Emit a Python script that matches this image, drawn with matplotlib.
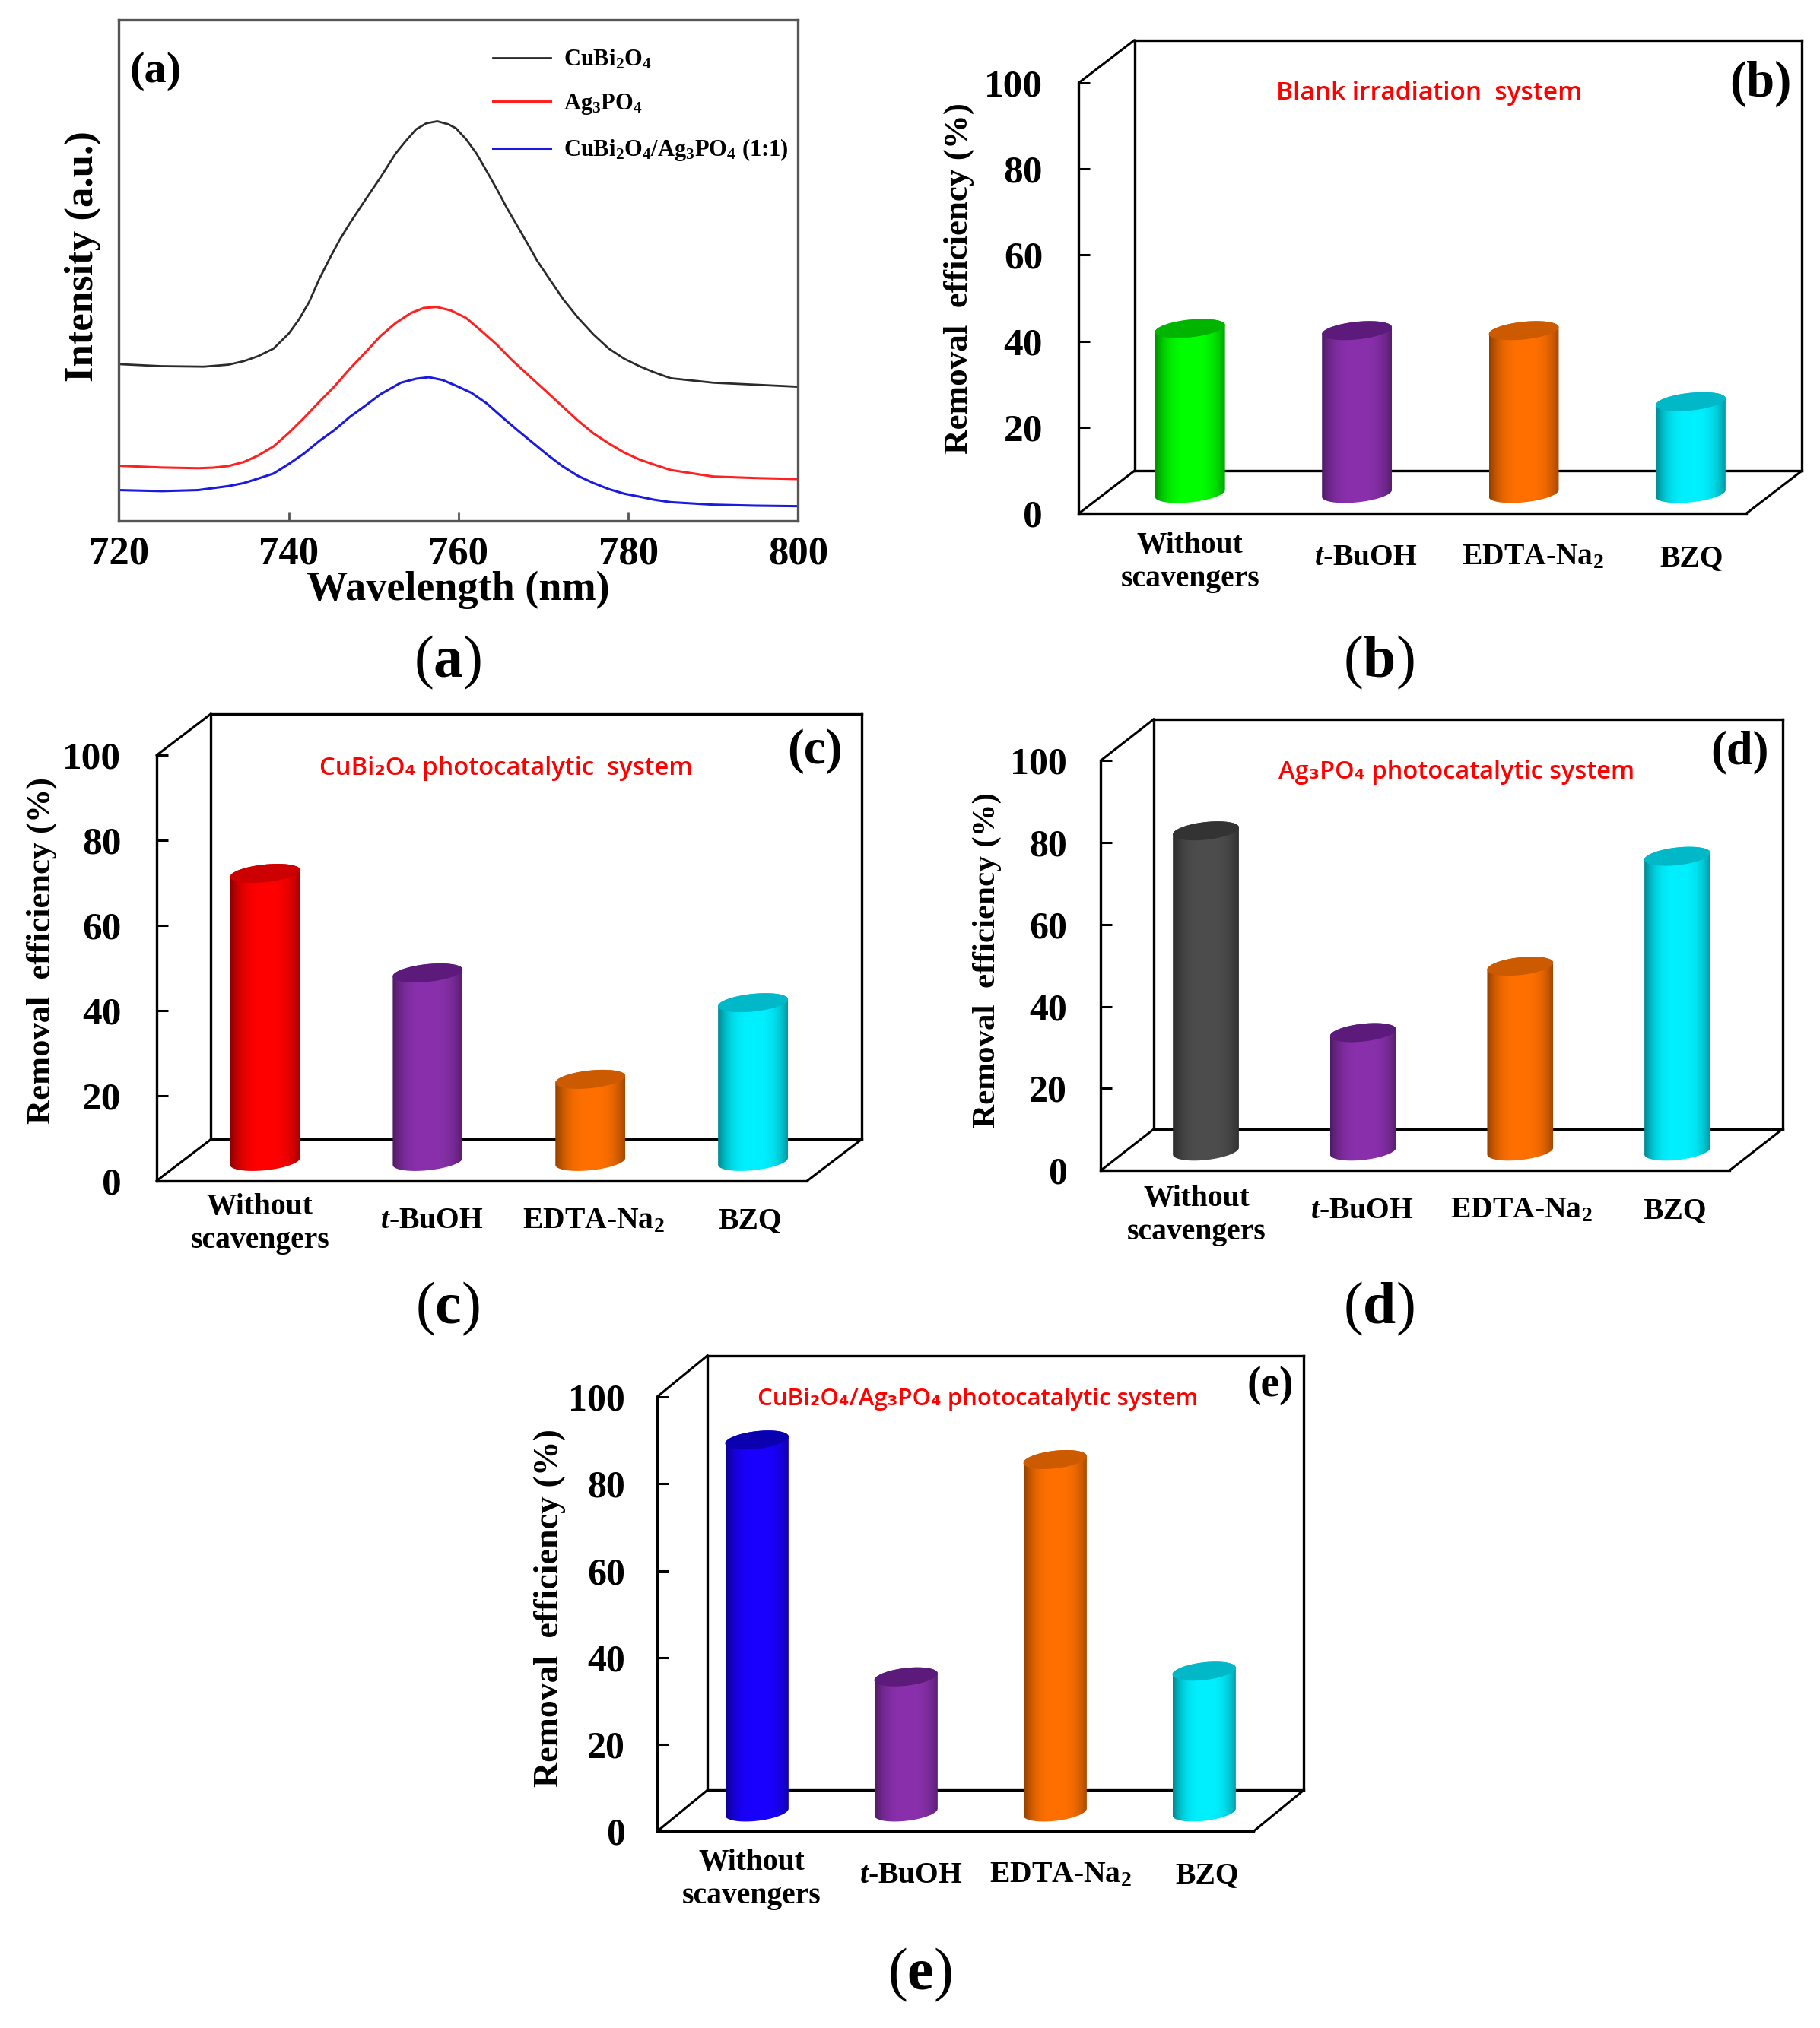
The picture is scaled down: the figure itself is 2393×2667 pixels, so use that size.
import numpy as np
import matplotlib
matplotlib.use('Agg')
import matplotlib.pyplot as plt
from matplotlib.path import Path

plt.rcParams['font.family'] = ['Liberation Serif', 'DejaVu Serif']
plt.rcParams['font.weight'] = 'bold'
plt.rcParams['mathtext.fontset'] = 'custom'
plt.rcParams['mathtext.rm'] = 'Liberation Serif:bold'
plt.rcParams['mathtext.bf'] = 'Liberation Serif:bold'
plt.rcParams['mathtext.it'] = 'Liberation Serif:italic:bold'

# panel (a)
wl_black = [720, 725, 730, 732.9, 734.7, 736.4, 738.2, 740.0, 741.2, 742.4, 743.6, 744.8, 746.0, 747.2, 749.0, 750.8, 752.6, 753.8, 755.0, 756.2, 757.5, 758.8, 759.7, 760.9, 762.1, 763.3, 764.5, 765.7, 766.9, 768.1, 769.3, 770.5, 772.3, 774.1, 775.9, 777.7, 779.5, 781.3, 783.0, 785, 790, 795, 800]
i_black = [31.3, 30.9, 30.8, 31.2, 31.9, 32.9, 34.4, 37.4, 40.2, 43.7, 48.3, 52.3, 56.1, 59.4, 64.0, 68.5, 73.3, 75.8, 78.1, 79.3, 79.7, 79.1, 78.3, 76.1, 73.3, 69.8, 66.2, 62.4, 58.9, 55.4, 51.8, 48.8, 44.3, 40.5, 37.2, 34.4, 32.4, 30.9, 29.7, 28.5, 27.6, 27.2, 26.8]
wl_red = [720, 725, 729.3, 731.1, 732.9, 734.7, 736.4, 738.2, 740.0, 741.8, 743.6, 745.4, 747.2, 749.0, 750.8, 752.6, 754.4, 755.9, 757.4, 759.1, 760.9, 762.7, 764.5, 766.3, 768.1, 770.5, 772.3, 774.1, 775.9, 777.7, 779.5, 781.3, 783.0, 785, 790, 795, 800]
i_red = [11.05, 10.7, 10.56, 10.67, 11.0, 11.8, 13.1, 14.9, 17.6, 20.6, 23.8, 26.9, 30.4, 33.6, 36.9, 39.5, 41.5, 42.5, 42.7, 42.0, 40.5, 37.9, 35.2, 32.1, 29.3, 25.6, 22.8, 20.0, 17.5, 15.5, 13.7, 12.3, 11.3, 10.2, 8.9, 8.6, 8.4]
wl_blue = [720, 725, 729.3, 731.1, 732.9, 734.7, 736.4, 738.2, 740.0, 741.8, 743.6, 745.4, 747.2, 749.0, 750.8, 753.2, 755.0, 756.5, 758.1, 759.7, 761.5, 763.3, 765.1, 766.9, 768.7, 770.5, 772.3, 774.1, 775.9, 777.7, 779.5, 781.3, 783.0, 785, 790, 795, 800]
i_blue = [6.2, 6.0, 6.2, 6.6, 7.0, 7.6, 8.5, 9.5, 11.4, 13.5, 16.0, 18.2, 20.8, 23.0, 25.3, 27.6, 28.4, 28.7, 28.15, 27.0, 25.6, 23.5, 20.8, 18.2, 15.7, 13.2, 10.9, 9.0, 7.6, 6.4, 5.5, 4.9, 4.3, 3.8, 3.3, 3.1, 3.0]

# bar panels
scavengers = ['Without\nscavengers', r'$\mathit{t}$-BuOH', r'EDTA-Na$_{\mathbf{2}}$', 'BZQ']
y_ticks = [0, 20, 40, 60, 80, 100]
vals_b = [38.3, 37.8, 37.8, 21.3]
vals_c = [67.7, 44.3, 19.3, 37.3]
vals_d = [78.1, 28.9, 45.1, 71.9]
vals_e = [85.6, 31.1, 81.1, 32.4]

GREEN = ('#00ff00', '#00b400')
PURPLE = ('#8a30ad', '#5c1a7a')
ORANGE = ('#ff7000', '#cc5a00')
CYAN = ('#00f0ff', '#00b8c8')
RED = ('#ff0000', '#cc0000')
GRAY = ('#4d4d4d', '#333333')
BLUE = ('#1a00ff', '#0a00b0')

# layout is worked out in the coordinates of the shrunk picture
W, H = 1407.0, 1568.0
fig = plt.figure(figsize=(23.93, 26.67), dpi=100)

def rect(x0, y0, x1, y1):
    return [x0 / W, 1 - y1 / H, (x1 - x0) / W, (y1 - y0) / H]

over = fig.add_axes([0, 0, 1, 1], zorder=10)
over.set_xlim(0, W)
over.set_ylim(H, 0)
over.axis('off')

def label(x, y, s, size, **kw):
    over.text(x, y, s, fontsize=size, ha=kw.pop('ha', 'center'), va=kw.pop('va', 'center'), **kw)

def red_title(x, y, s, size):
    label(x, y, s, size, color='#ff0000', family=['Open Sans', 'DejaVu Sans'], weight='semibold')

def cylinder(ax, c, v, hw, colors, px):
    base = matplotlib.colors.to_rgb(colors[0])
    tilt = 2.65 / px
    minor = 6.85 / px
    t = np.linspace(0, 2 * np.pi, 121)
    u = np.linspace(-1, 1, 120)
    shade = 1 - 0.4 * np.abs(u - 0.03) ** 3
    img = np.outer(shade, base).reshape(1, 120, 3)
    im = ax.imshow(img, extent=(c - hw, c + hw, -5, v + 5), aspect='auto', zorder=3)
    lo = np.linspace(np.pi, 2 * np.pi, 60)
    up = np.linspace(0, np.pi, 60)
    xs = np.r_[c + hw * np.cos(lo), c + hw * np.cos(up)]
    ys = np.r_[tilt * np.cos(lo) + minor * np.sin(lo), v + tilt * np.cos(up) + minor * np.sin(up)]
    im.set_clip_path(Path(np.c_[xs, ys], closed=False), transform=ax.transData)
    ax.fill(c + hw * np.cos(t), v + tilt * np.cos(t) + minor * np.sin(t), color=colors[1], lw=0, zorder=4)

def bar_panel(fl, ft, fr, fb, dx, dy, values, colors, bar_w, tick_x, size, pad):
    # fl, ft, fr, fb is the front plane, dx and dy the shift to the back wall
    back = fig.add_axes(rect(fl + dx, ft - dy, fr + dx, fb - dy), zorder=1)
    back.set_xticks([])
    back.set_yticks([])
    for s in back.spines.values():
        s.set_linewidth(2.4)

    front = fig.add_axes(rect(fl, ft, fr, fb), zorder=2, facecolor='none')
    front.set_ylim(0, 100)
    front.set_xticks([])
    front.set_yticks(y_ticks)
    front.tick_params(axis='y', direction='in', length=11, width=2.2, labelsize=size, pad=pad)
    front.spines['top'].set_visible(False)
    front.spines['right'].set_visible(False)
    front.spines['left'].set_linewidth(2.4)
    front.spines['bottom'].set_linewidth(2.4)

    for x, yy in [(fl, ft), (fl, fb), (fr, fb)]:
        over.plot([x, x + dx], [yy, yy - dy], color='k', lw=2.2, solid_capstyle='round')

    # the bars stand half way into the box
    px = (fb - ft) / 100.0
    mx, my = dx / 2.0, dy / 2.0 - 1
    ax = fig.add_axes(rect(fl + mx, ft - my, fr + mx, fb - my + 5 * px), zorder=3, facecolor='none')
    ax.axis('off')
    for i, v in enumerate(values):
        cylinder(ax, i, v, bar_w / 2.0 / ((fr - fl) / 4.0), colors[i], px)
    ax.set_xlim(-0.5, 3.5)
    ax.set_ylim(-5, 100)
    for x, yy, s in zip(tick_x[0], tick_x[1], scavengers):
        label(x, yy, s, 28.5, linespacing=1.25)

# (a)
ax_a = fig.add_axes(rect(92, 15, 617, 403), zorder=1)
ax_a.plot(wl_black, i_black, color='#2b2b2b', lw=2, label=r'CuBi$_{\mathbf{2}}$O$_{\mathbf{4}}$')
ax_a.plot(wl_red, i_red, color='#ff2020', lw=2.2, label=r'Ag$_{\mathbf{3}}$PO$_{\mathbf{4}}$')
ax_a.plot(wl_blue, i_blue, color='#1a1ae0', lw=2.2, label=r'CuBi$_{\mathbf{2}}$O$_{\mathbf{4}}$/Ag$_{\mathbf{3}}$PO$_{\mathbf{4}}$ (1:1)')
ax_a.set_xlim(720, 800)
ax_a.set_ylim(0, 100)
ax_a.set_yticks([])
ax_a.set_xticks([720, 740, 760, 780, 800])
ax_a.tick_params(axis='x', direction='in', length=9, width=2, labelsize=38, pad=14, color='#555555')
for s in ax_a.spines.values():
    s.set_linewidth(2.4)
    s.set_color('#555555')
ax_a.legend(loc='upper left', bbox_to_anchor=((381 - 92) / 525.0, 1 - 22 / 388.0), frameon=False, fontsize=22,
            handlelength=2.5, handletextpad=0.55, labelspacing=0.9, borderpad=0, borderaxespad=0)
label(354, 456, 'Wavelength (nm)', 39)
label(64, 198, 'Intensity (a.u.)', 38, rotation=90)
label(120, 55, '(a)', 42)

# (b)
bar_panel(834, 64, 1350, 397, 43, 33, vals_b, [GREEN, PURPLE, ORANGE, CYAN], 54,
          ([920, 1056, 1185, 1308], [435, 431, 431, 432]), 37, 34)
label(741, 215, 'Removal  efficiency (%)', 32.5, rotation=90)
label(1361, 65, '(b)', 48)
red_title(1105, 72, 'Blank irradiation  system', 24)

# (c)
bar_panel(121, 584, 624, 913, 42, 32, vals_c, [RED, PURPLE, ORANGE, CYAN], 54,
          ([201, 334, 459, 580], [946, 944, 944, 944]), 37, 33.5)
label(32, 735, 'Removal  efficiency (%)', 32, rotation=90)
label(630, 581, '(c)', 47)
red_title(391, 594, 'CuBi₂O₄ photocatalytic  system', 23.6)

# (d)
bar_panel(851, 588, 1337, 905, 41, 32, vals_d, [GRAY, PURPLE, ORANGE, CYAN], 51,
          ([925, 1053, 1176, 1295], [940, 936, 936, 936]), 36, 32)
label(763, 742, 'Removal  efficiency (%)', 31, rotation=90)
label(1345, 582, '(d)', 45)
red_title(1126, 597, 'Ag₃PO₄ photocatalytic system', 23.5)

# (e)
bar_panel(508, 1080, 969, 1416, 39, 32, vals_e, [BLUE, PURPLE, ORANGE, CYAN], 49,
          ([581, 704, 820, 933], [1453, 1450, 1450, 1450]), 36, 30.5)
label(425, 1243, 'Removal  efficiency (%)', 33, rotation=90)
label(982, 1071, '(e)', 40)
red_title(756, 1082, 'CuBi₂O₄/Ag₃PO₄ photocatalytic system', 22.4)

# captions under the panels
for x, y, s in [(346, 512, 'a'), (1066, 512, 'b'), (346, 1012, 'c'), (1066, 1012, 'd'), (711, 1527, 'e')]:
    label(x, y, '($\\mathbf{%s}$)' % s, 56, weight='normal')

fig.savefig('out.png', dpi=100)
